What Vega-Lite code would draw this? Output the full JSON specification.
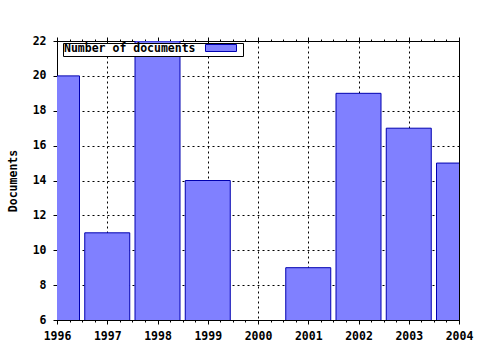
{
  "$schema": "https://vega.github.io/schema/vega-lite/v6.json",
  "width": 402,
  "height": 279,
  "autosize": {"type": "none"},
  "padding": {"left": 57, "top": 41, "right": 21, "bottom": 30},
  "background": "white",
  "config": {
    "view": {"stroke": "black", "strokeWidth": 1},
    "font": "DejaVu Sans Mono",
    "axis": {
      "labelFont": "DejaVu Sans Mono",
      "labelFontWeight": "bold",
      "labelFontSize": 11.5,
      "labelColor": "black",
      "titleFont": "DejaVu Sans Mono",
      "titleFontWeight": "bold",
      "titleFontSize": 11.5,
      "titleColor": "black",
      "domainColor": "black",
      "tickColor": "black",
      "gridColor": "black",
      "gridDash": [2, 3],
      "gridOpacity": 1
    }
  },
  "data": {
    "values": [
      {"year": 1996, "documents": 20, "series": "Number of documents"},
      {"year": 1997, "documents": 11, "series": "Number of documents"},
      {"year": 1998, "documents": 22, "series": "Number of documents"},
      {"year": 1999, "documents": 14, "series": "Number of documents"},
      {"year": 2000, "documents": 0, "series": "Number of documents"},
      {"year": 2001, "documents": 9, "series": "Number of documents"},
      {"year": 2002, "documents": 19, "series": "Number of documents"},
      {"year": 2003, "documents": 17, "series": "Number of documents"},
      {"year": 2004, "documents": 15, "series": "Number of documents"}
    ]
  },
  "layer": [
    {
      "mark": {"type": "bar", "width": 45, "clip": true, "stroke": "#0000b0", "strokeWidth": 1, "fillOpacity": 1, "zindex": 2},
      "encoding": {
        "x": {
          "field": "year",
          "type": "quantitative",
          "scale": {"domain": [1996, 2004], "zero": false, "nice": false, "padding": 0},
          "axis": {
            "orient": "bottom",
            "title": null,
            "values": [1996, 1996.25, 1996.5, 1996.75, 1997, 1997.25, 1997.5, 1997.75, 1998, 1998.25, 1998.5, 1998.75, 1999, 1999.25, 1999.5, 1999.75, 2000, 2000.25, 2000.5, 2000.75, 2001, 2001.25, 2001.5, 2001.75, 2002, 2002.25, 2002.5, 2002.75, 2003, 2003.25, 2003.5, 2003.75, 2004],
            "labelExpr": "datum.value % 1 == 0 ? format(datum.value, 'd') : ''",
            "labelFlush": false,
            "labelOverlap": false,
            "labelPadding": 6,
            "tickSize": {"condition": {"test": "datum.value % 1 == 0", "value": 4}, "value": 2},
            "gridOpacity": {"condition": {"test": "datum.value % 1 == 0", "value": 1}, "value": 0},
            "domain": true
          }
        },
        "y": {
          "field": "documents",
          "type": "quantitative",
          "scale": {"domain": [6, 22], "zero": false, "nice": false, "padding": 0},
          "axis": {
            "title": "Documents",
            "values": [6, 8, 10, 12, 14, 16, 18, 20, 22],
            "tickSize": 4,
            "labelPadding": 7,
            "titlePadding": 14
          }
        },
        "y2": {"datum": 0},
        "color": {
          "field": "series",
          "type": "nominal",
          "scale": {"range": ["#8080ff"]},
          "legend": {
            "orient": "none",
            "legendX": 6,
            "legendY": 2,
            "zindex": 1,
            "title": "Number of documents",
            "titleOrient": "left",
            "titleFont": "DejaVu Sans Mono",
            "titleFontWeight": "bold",
            "titleFontSize": 11.5,
            "titleColor": "black",
            "titlePadding": 21,
            "titleBaseline": "middle",
            "labelExpr": "''",
            "labelOffset": 17,
            "labelFontSize": 7,
            "symbolType": "M-4.43,-1H4.43V1H-4.43Z",
            "symbolSize": 49,
            "symbolStrokeColor": "#0000b0",
            "symbolStrokeWidth": 1,
            "symbolFillColor": "#8080ff",
            "symbolOpacity": 1,
            "fillColor": "white",
            "strokeColor": "black",
            "padding": 1
          }
        }
      }
    },
    {
      "mark": {"type": "tick", "opacity": 0},
      "encoding": {
        "x": {
          "field": "year",
          "type": "quantitative",
          "axis": {
            "orient": "top",
            "title": null,
            "labels": false,
            "grid": false,
            "domain": false,
            "values": [1996, 1996.25, 1996.5, 1996.75, 1997, 1997.25, 1997.5, 1997.75, 1998, 1998.25, 1998.5, 1998.75, 1999, 1999.25, 1999.5, 1999.75, 2000, 2000.25, 2000.5, 2000.75, 2001, 2001.25, 2001.5, 2001.75, 2002, 2002.25, 2002.5, 2002.75, 2003, 2003.25, 2003.5, 2003.75, 2004],
            "tickSize": {"condition": {"test": "datum.value % 1 == 0", "value": 4}, "value": 2}
          }
        }
      }
    }
  ],
  "resolve": {"axis": {"x": "independent"}}
}
